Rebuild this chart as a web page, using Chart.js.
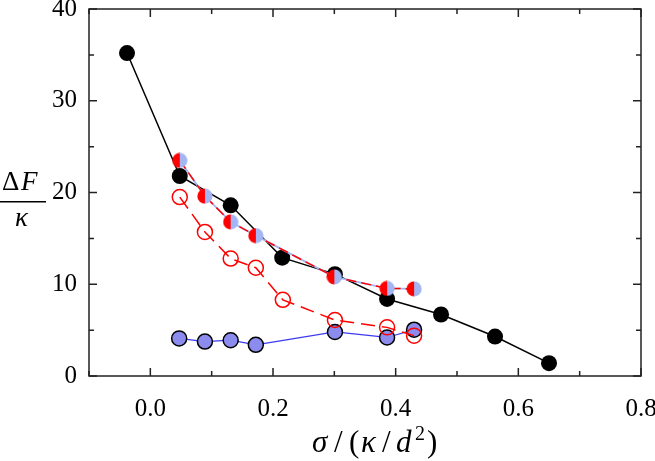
<!DOCTYPE html>
<html>

<head>
  <meta charset="utf-8">
  <title>Delta F / kappa</title>
  <style>
    html, body {
      margin: 0;
      padding: 0;
      background: #fff;
    }

    .wrap {
      width: 655px;
      height: 461px;
      position: relative;
    }
  </style>
</head>

<body>
  <div class="wrap">
    <canvas id="chart" width="655" height="461"></canvas>
  </div>

  <script src="https://cdn.jsdelivr.net/npm/chart.js"></script>

  <script>
    // values
    const blackX = [-0.038, 0.048, 0.131, 0.215, 0.301, 0.386, 0.474, 0.562, 0.650];
    const blackY = [35.2, 21.8, 18.6, 12.9, 11.1, 8.4, 6.7, 4.3, 1.4];

    const halfX = [0.048, 0.089, 0.131, 0.172, 0.300, 0.386, 0.430];
    const halfY = [23.5, 19.6, 16.8, 15.3, 10.8, 9.55, 9.5];

    const openX = [0.048, 0.089, 0.131, 0.172, 0.216, 0.301, 0.386, 0.430];
    const openY = [19.5, 15.7, 12.8, 11.8, 8.3, 6.1, 5.3, 4.4];

    const blueX = [0.047, 0.089, 0.131, 0.172, 0.301, 0.386, 0.430];
    const blueY = [4.1, 3.75, 3.9, 3.4, 4.8, 4.2, 5.05];

    const xTicks = [-0.1, 0.0, 0.1, 0.2, 0.3, 0.4, 0.5, 0.6, 0.7, 0.8];
    const yTicks = [0, 5, 10, 15, 20, 25, 30, 35, 40];

    const RED = '#ff0000';
    const LIGHTBLUE = '#a3b5f2';
    const BLUE = '#8c8cee';
    const SERIF = 'Liberation Serif';

    const pts = (xs, ys) => xs.map((x, i) => ({ x: x, y: ys[i] }));

    // half red / half light-blue marker
    const half = document.createElement('canvas');
    half.width = 16;
    half.height = 16;
    const hc = half.getContext('2d');
    hc.fillStyle = LIGHTBLUE;
    hc.beginPath();
    hc.arc(8, 8, 7.6, -Math.PI / 2, Math.PI / 2);
    hc.fill();
    hc.fillStyle = RED;
    hc.beginPath();
    hc.arc(8, 8, 7.6, Math.PI / 2, Math.PI * 1.5);
    hc.fill();

    // inward ticks on all four sides, frame and the axis titles
    const frame = {
      id: 'frame',
      afterDraw(chart) {
        const ctx = chart.ctx;
        const a = chart.chartArea;
        const xs = chart.scales.x;
        const ys = chart.scales.y;
        ctx.save();
        ctx.strokeStyle = '#222';
        ctx.lineWidth = 1.5;
        ctx.strokeRect(a.left, a.top, a.right - a.left, a.bottom - a.top);
        ctx.beginPath();
        xTicks.forEach(v => {
          const px = xs.getPixelForValue(v);
          const len = Math.round(v * 10) % 2 === 0 ? 8 : 5;
          ctx.moveTo(px, a.bottom);
          ctx.lineTo(px, a.bottom - len);
          ctx.moveTo(px, a.top);
          ctx.lineTo(px, a.top + len);
        });
        yTicks.forEach(v => {
          const py = ys.getPixelForValue(v);
          const len = v % 10 === 0 ? 8 : 5;
          ctx.moveTo(a.left, py);
          ctx.lineTo(a.left + len, py);
          ctx.moveTo(a.right, py);
          ctx.lineTo(a.right - len, py);
        });
        ctx.stroke();

        // y title: Delta F over kappa
        ctx.fillStyle = '#000';
        ctx.textBaseline = 'alphabetic';
        ctx.textAlign = 'left';
        ctx.font = '27px ' + SERIF;
        ctx.fillText('\u0394', 2, 190);
        ctx.font = 'italic 27px ' + SERIF;
        ctx.fillText('F', 21, 190);
        ctx.fillRect(0, 201, 46, 1.5);
        ctx.fillText('\u03ba', 15, 226);

        // x title: sigma/(kappa/d^2), glyphs placed as in the figure
        const parts = [
          ['\u03c3', 'italic 31px', 312, 452],
          ['/', '31px', 334, 452],
          ['(', '31px', 349, 452],
          ['\u03ba', 'italic 31px', 361, 452],
          ['/', '31px', 382, 452],
          ['d', 'italic 31px', 396, 452],
          ['2', '20px', 415, 440],
          [')', '31px', 427, 452]
        ];
        parts.forEach(p => {
          ctx.font = p[1] + ' ' + SERIF;
          ctx.fillText(p[0], p[2], p[3]);
        });
        ctx.restore();
      }
    };

    new Chart(document.getElementById('chart'), {
      type: 'scatter',
      data: {
        datasets: [
          {
            label: 'half',
            data: pts(halfX, halfY),
            showLine: true,
            borderColor: RED,
            borderWidth: 1.5,
            borderDash: [10, 5],
            pointStyle: half,
            order: 1
          },
          {
            label: 'half line',
            data: pts(halfX, halfY),
            showLine: true,
            borderColor: LIGHTBLUE,
            borderWidth: 1.8,
            pointRadius: 0,
            order: 2
          },
          {
            label: 'open',
            data: pts(openX, openY),
            showLine: true,
            borderColor: RED,
            borderWidth: 1.5,
            borderDash: [14, 7],
            pointRadius: 7.5,
            pointBorderWidth: 1.5,
            pointBackgroundColor: 'rgba(0,0,0,0)',
            pointBorderColor: RED,
            order: 3
          },
          {
            label: 'blue',
            data: pts(blueX, blueY),
            showLine: true,
            borderColor: '#3a3af0',
            borderWidth: 1.2,
            pointRadius: 7.5,
            pointBorderWidth: 1.5,
            pointBackgroundColor: BLUE,
            pointBorderColor: '#000',
            order: 4
          },
          {
            label: 'black',
            data: pts(blackX, blackY),
            showLine: true,
            borderColor: '#000',
            borderWidth: 1.5,
            pointRadius: 8,
            pointBorderWidth: 0,
            pointBackgroundColor: '#000',
            order: 5
          }
        ]
      },
      options: {
        responsive: false,
        animation: false,
        layout: { padding: { left: 0, top: 9, right: 14, bottom: 0 } },
        plugins: {
          legend: { display: false },
          tooltip: { enabled: false }
        },
        scales: {
          x: {
            type: 'linear',
            min: -0.1,
            max: 0.8,
            afterFit: s => {
              s.height = 85;
              s.paddingLeft = 0;
              s.paddingRight = 0;
            },
            afterBuildTicks: s => { s.ticks = xTicks.map(v => ({ value: v })); },
            grid: { display: false, drawTicks: false },
            border: { display: false },
            ticks: {
              padding: 18,
              color: '#000',
              font: { family: SERIF, size: 25 },
              callback: v => Math.round(v * 10) % 2 === 0 ? v.toFixed(1) : ''
            }
          },
          y: {
            type: 'linear',
            min: 0,
            max: 40,
            afterFit: s => {
              s.width = 89;
              s.paddingTop = 0;
              s.paddingBottom = 0;
            },
            afterBuildTicks: s => { s.ticks = yTicks.map(v => ({ value: v })); },
            grid: { display: false, drawTicks: false },
            border: { display: false },
            ticks: {
              padding: 12,
              color: '#000',
              font: { family: SERIF, size: 25 },
              callback: v => v % 10 === 0 ? String(v) : ''
            }
          }
        }
      },
      plugins: [frame]
    });
  </script>
</body>

</html>
